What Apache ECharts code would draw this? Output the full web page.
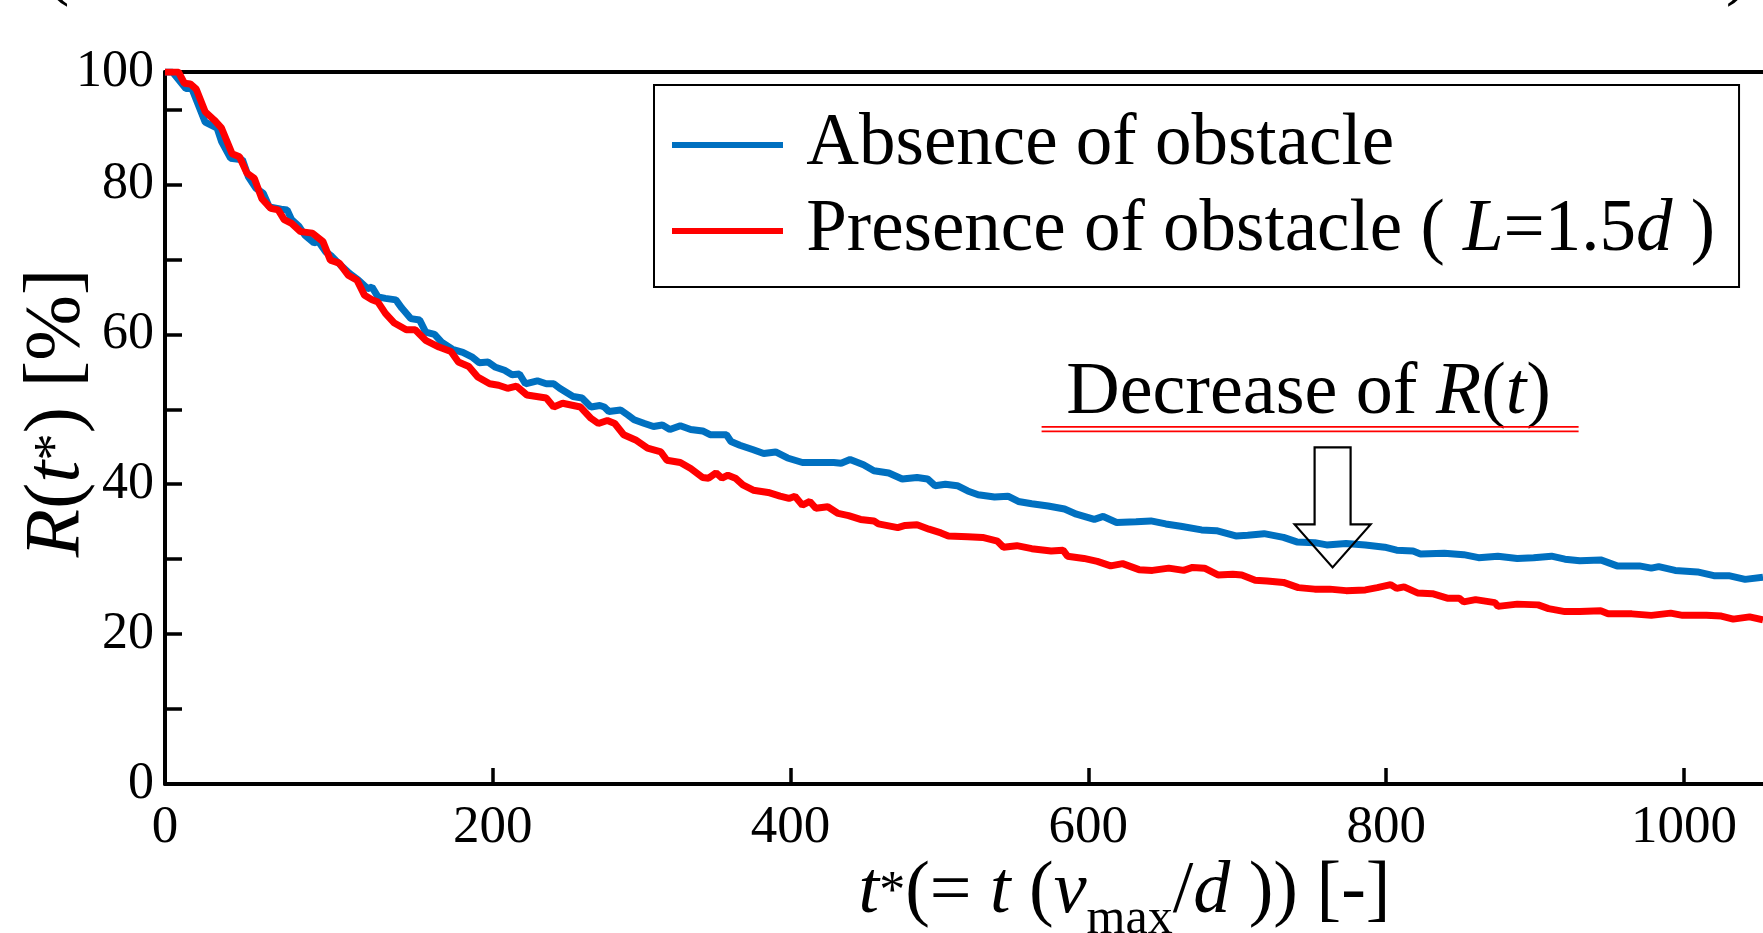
<!DOCTYPE html>
<html><head><meta charset="utf-8">
<script src="https://cdn.jsdelivr.net/npm/echarts@6/dist/echarts.min.js"></script>
<style>html,body{margin:0;padding:0;background:#fff}#c{width:1763px;height:933px}</style>
</head><body><div id="c"></div>
<script>
// ---- data (t*, R %) ----
const BLUE = [[-20,95],[-15,95],[-6,92.8],[-2,92.8],[7,88.3],[15,87.5],[18,85.7],[24,83.5],[32,83.3],[36,81],[41,79.5],[46,78.8],[50,77],[58,76.7],[62,76.6],[65,75.3],[70,74.4],[74,73.2],[80,72.2],[83,72.4],[88,71],[92,70.4],[98,69.2],[104,68.1],[110,67.2],[116,66.1],[119,66.3],[123,65],[128,64.8],[135,64.6],[139,63.5],[145,62.1],[151,61.9],[155,60.3],[161,60],[166,58.9],[173,58],[180,57.6],[186,57],[191,56.2],[197,56.3],[202,55.6],[208,55.2],[213,54.6],[218,54.7],[222,53.4],[230,53.8],[236,53.4],[241,53.4],[245,52.8],[254,51.7],[260,51.5],[266,50.3],[272,50.5],[275,50.3],[278,49.7],[286,49.9],[291,49.2],[295,48.6],[302,48.1],[308,47.7],[314,47.9],[319,47.3],[326,47.8],[333,47.3],[341,47.1],[346,46.6],[357,46.6],[360,45.7],[366,45.2],[375,44.6],[382,44.1],[390,44.3],[398,43.5],[408,42.9],[418,42.9],[429,42.9],[434,42.8],[440,43.3],[449,42.6],[456,41.8],[466,41.5],[475,40.7],[485,40.9],[492,40.7],[497,39.8],[504,40.0],[512,39.8],[519,39.1],[526,38.6],[537,38.3],[546,38.4],[553,37.7],[562,37.4],[573,37.1],[584,36.7],[592,36.0],[604,35.3],[610,35.7],[619,34.9],[632,35.0],[642,35.1],[652,34.7],[662,34.4],[676,33.9],[686,33.8],[699,33.1],[707,33.2],[718,33.4],[731,32.9],[740,32.3],[752,32.2],[760,31.9],[773,32.1],[786,31.9],[799,31.6],[807,31.2],[818,31.1],[823,30.7],[839,30.8],[852,30.6],[862,30.2],[875,30.4],[888,30.1],[899,30.2],[911,30.4],[920,30.0],[930,29.8],[944,29.9],[955,29.1],[970,29.1],[978,28.8],[983,29.0],[994,28.5],[1009,28.3],[1020,27.8],[1030,27.8],[1041,27.3],[1053,27.6]];
const RED = [[-20,95],[-11,95],[-7,93.5],[-3,93.4],[1,92.7],[7,89.7],[13,88.6],[18,87.5],[25,84.1],[30,83.7],[35,81.5],[40,80.8],[45,78.1],[51,76.8],[56,76.6],[60,75.3],[65,74.8],[71,73.7],[79,73.5],[86,72.4],[91,69.9],[97,69.5],[103,67.9],[109,67.2],[114,65.2],[119,64.6],[123,64.3],[128,62.8],[134,61.5],[142,60.6],[148,60.6],[155,59.2],[164,58.3],[172,57.7],[177,56.3],[184,55.7],[190,54.3],[198,53.4],[204,53.2],[210,52.8],[216,53.1],[223,51.9],[236,51.5],[241,50.3],[247,50.8],[259,50.3],[266,48.8],[271,48.1],[277,48.5],[282,48.1],[288,46.6],[296,45.9],[304,44.8],[313,44.3],[317,43.2],[326,42.9],[333,42.1],[341,40.9],[345,40.8],[350,41.5],[354,40.8],[358,41.2],[363,40.8],[368,39.9],[375,39.2],[385,38.9],[393,38.4],[399,38.1],[403,38.4],[408,37.2],[413,37.7],[417,36.8],[425,37.0],[432,36.1],[439,35.8],[447,35.3],[456,35.1],[459,34.7],[472,34.2],[477,34.5],[485,34.6],[493,34.0],[501,33.5],[506,33.1],[519,33.0],[529,32.9],[539,32.4],[543,31.6],[552,31.8],[562,31.4],[575,31.1],[583,31.2],[586,30.4],[597,30.1],[606,29.7],[615,29.1],[623,29.4],[634,28.6],[643,28.5],[654,28.8],[664,28.5],[670,28.9],[678,28.8],[687,27.9],[697,28.0],[703,27.9],[712,27.2],[720,27.1],[731,26.9],[741,26.2],[752,26.0],[762,26.0],[773,25.8],[786,25.9],[794,26.2],[803,26.6],[807,26.1],[812,26.3],[821,25.5],[831,25.4],[841,24.8],[849,24.8],[852,24.3],[860,24.6],[873,24.2],[875,23.7],[888,24.0],[902,23.9],[909,23.4],[920,23.0],[930,23.0],[944,23.1],[949,22.7],[965,22.7],[978,22.5],[991,22.8],[999,22.5],[1015,22.5],[1025,22.4],[1033,22.0],[1044,22.3],[1053,21.9]];
const SERIES_NAMES = ['Absence of obstacle', 'Presence of obstacle ( L=1.5d )'];
const X_TICKS = [200, 400, 600, 800, 1000];
const X_LABELS = [-20, 200, 400, 600, 800, 1000];
const Y_TICKS = [10, 20, 30, 40, 50, 60, 70, 80, 90];
const Y_LABELS = [0, 20, 40, 60, 80, 95];
const X_RANGE = [-20, 1053];
const Y_RANGE = [0, 95];

const F = '"Liberation Serif","Times New Roman",serif';
const RICH = {
  n: {fontFamily: F, fontSize: 74, lineHeight: 80, color: '#000'},
  i: {fontFamily: F, fontSize: 74, lineHeight: 80, fontStyle: 'italic', color: '#000'},
  sup: {fontFamily: F, fontSize: 52, lineHeight: 52, color: '#000'},
  sub: {fontFamily: F, fontSize: 50, lineHeight: 50, color: '#000', padding: [54, 0, 0, 0]}
};
const YRICH = {
  n: {fontFamily: F, fontSize: 79, lineHeight: 84, color: '#000'},
  i: {fontFamily: F, fontSize: 79, lineHeight: 84, fontStyle: 'italic', color: '#000'},
  sup: {fontFamily: F, fontSize: 55, lineHeight: 55, color: '#000'}
};
const LRICH = {
  n: {fontFamily: F, fontSize: 73, lineHeight: 86, color: '#000'},
  i: {fontFamily: F, fontSize: 73, lineHeight: 86, fontStyle: 'italic', color: '#000'}
};

const chart = echarts.init(document.getElementById('c'), null, {renderer: 'canvas'});
const axisLine = {show: true, onZero: false, lineStyle: {color: '#000', width: 4}};
chart.setOption({
  animation: false,
  backgroundColor: '#fff',
  grid: {left: 165, right: 0, top: 72, bottom: 149, containLabel: false, outerBoundsMode: 'none'},
  legend: {
    orient: 'vertical', left: 654, top: 85,
    padding: [17, 24, 13, 18], itemGap: 0,
    itemWidth: 111, itemHeight: 6, icon: 'rect',
    borderColor: '#000', borderWidth: 2, selectedMode: false,
    data: SERIES_NAMES,
    textStyle: {fontFamily: F, fontSize: 73, lineHeight: 86, color: '#000', rich: LRICH},
    formatter: function (name) {
      if (name === SERIES_NAMES[1]) return '{n| Presence of obstacle ( }{i|L}{n|=1.5}{i|d}{n| )}';
      return '{n| ' + name + '}';
    }
  },
  xAxis: [{
    type: 'value', min: X_RANGE[0], max: X_RANGE[1], position: 'bottom',
    axisLine: axisLine,
    axisTick: {show: true, inside: true, length: 16, customValues: X_TICKS, lineStyle: {color: '#000', width: 3.5}},
    splitLine: {show: false},
    axisLabel: {customValues: X_LABELS, margin: 18, fontFamily: F, fontSize: 53, color: '#000',
      formatter: v => (v < 0 ? '0' : String(v))},
    name: '{i|t}{sup|*}{n|(= }{i|t}{n| (}{i|v}{sub|max}{n|/}{i|d}{n| )) [-]}',
    nameLocation: 'middle', nameGap: 69, nameMoveOverlap: false,
    nameTextStyle: {rich: RICH, padding: [0, 0, 0, 321]}
  }, {
    type: 'value', min: X_RANGE[0], max: X_RANGE[1], position: 'top',
    axisLine: axisLine, axisTick: {show: false}, axisLabel: {show: false}, splitLine: {show: false}
  }],
  yAxis: {
    type: 'value', min: Y_RANGE[0], max: Y_RANGE[1],
    axisLine: axisLine,
    axisTick: {show: true, inside: true, length: 17, customValues: Y_TICKS, lineStyle: {color: '#000', width: 3.5}},
    splitLine: {show: false},
    axisLabel: {customValues: Y_LABELS, margin: 11, fontFamily: F, fontSize: 52, color: '#000',
      formatter: v => (v === Y_RANGE[1] ? '100' : String(v))},
    name: '{i|R}{n|(}{i|t}{sup|*}{n|) [%]}',
    nameLocation: 'middle', nameRotate: 90, nameGap: 66, nameMoveOverlap: false,
    nameTextStyle: {rich: YRICH, padding: [0, 0, 0, 30]}
  },
  series: [
    {name: SERIES_NAMES[0], type: 'line', data: BLUE, showSymbol: false, symbol: 'none',
     lineStyle: {color: '#0070C0', width: 7}, itemStyle: {color: '#0070C0'}},
    {name: SERIES_NAMES[1], type: 'line', data: RED, showSymbol: false, symbol: 'none',
     lineStyle: {color: '#FF0000', width: 7}, itemStyle: {color: '#FF0000'}}
  ]
});

// annotations anchored to data coordinates
const tip = chart.convertToPixel({xAxisIndex: 0, yAxisIndex: 0}, [764, 28.9]);
const tx = tip[0], ty = tip[1];
chart.setOption({
  graphic: [
    {type: 'text', style: {text: '(', x: 57, y: 9, fontFamily: F, fontSize: 74, fill: '#000', align: 'center', verticalAlign: 'bottom'}},
    {type: 'text', style: {text: ')', x: 1738, y: 9, fontFamily: F, fontSize: 74, fill: '#000', align: 'center', verticalAlign: 'bottom'}},
    {type: 'text', style: {text: '{n|Decrease of }{i|R}{n|(}{i|t}{n|)}', rich: RICH, x: tx - 24, y: ty - 174, align: 'center', verticalAlign: 'middle'}},
    {type: 'line', shape: {x1: tx - 291, y1: ty - 140.5, x2: tx + 246, y2: ty - 140.5}, style: {stroke: '#FF0000', lineWidth: 1.6}},
    {type: 'line', shape: {x1: tx - 291, y1: ty - 136, x2: tx + 246, y2: ty - 136}, style: {stroke: '#FF0000', lineWidth: 1.6}},
    {type: 'polygon', shape: {points: [
      [tx - 18, ty - 120], [tx + 18, ty - 120], [tx + 18, ty - 43], [tx + 38, ty - 43],
      [tx, ty], [tx - 38, ty - 43], [tx - 18, ty - 43]]},
     style: {fill: 'none', stroke: '#000', lineWidth: 2.2}, z: 100}
  ]
});
</script></body></html>
